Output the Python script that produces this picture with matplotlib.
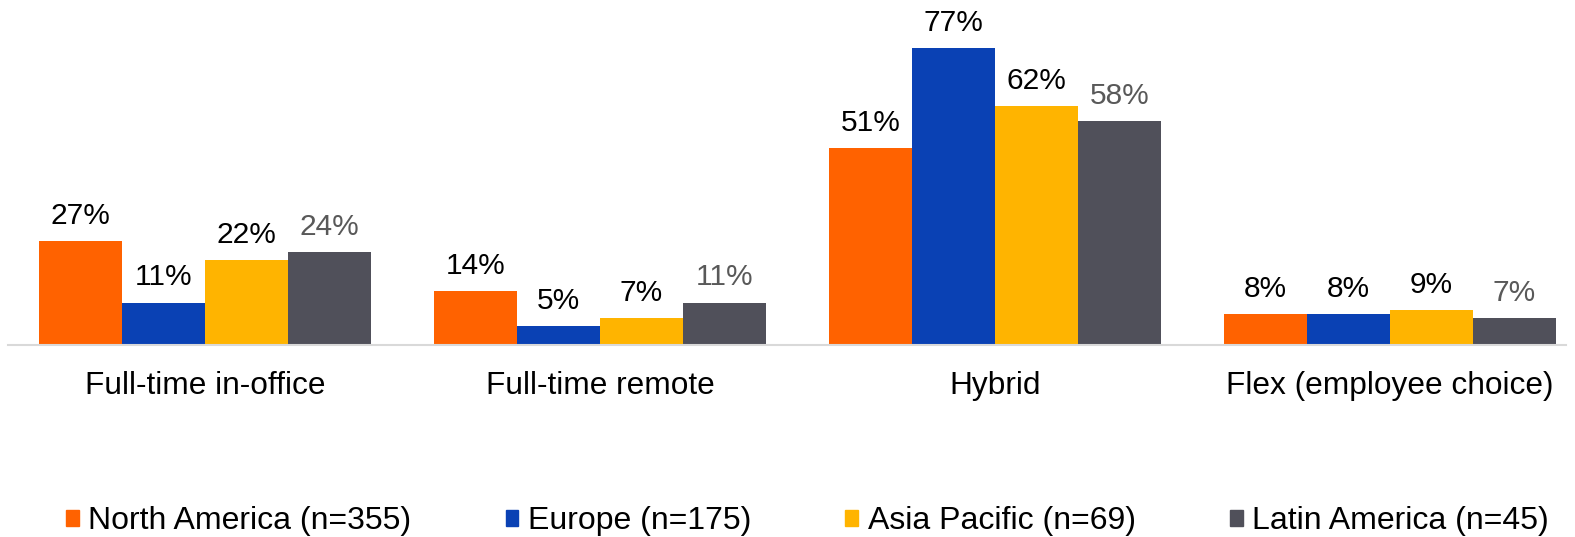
import matplotlib.pyplot as plt
import matplotlib.patches as mpatches
import numpy as np

plt.rcParams['font.family'] = ['Liberation Sans', 'DejaVu Sans']

# data
categories = ["Full-time in-office", "Full-time remote", "Hybrid", "Flex (employee choice)"]
regions = ["North America (n=355)", "Europe (n=175)", "Asia Pacific (n=69)", "Latin America (n=45)"]
north_america = [27, 14, 51, 8]
europe = [11, 5, 77, 8]
asia_pacific = [22, 7, 62, 9]
latin_america = [24, 11, 58, 7]

series = [north_america, europe, asia_pacific, latin_america]
colors = ["#FF6200", "#0A41B4", "#FFB400", "#50505A"]
label_colors = ["black", "black", "black", "#595959"]

fig = plt.figure(figsize=(15.75, 5.37), dpi=100)
ax = fig.add_axes([0.005, 0.3575, 0.989, 0.6425])

x = np.arange(len(categories))
w = 0.21
for i, vals in enumerate(series):
    bars = ax.bar(x + (i - 1.5) * w, vals, w, color=colors[i], label=regions[i])
    ax.bar_label(bars, labels=[f"{v}%" for v in vals], padding=8,
                 fontsize=21.5, color=label_colors[i])

ax.set_xlim(-0.5, 3.445)
ax.set_ylim(0, 89.4)
ax.set_xticks(x)
ax.set_xticklabels(categories, fontsize=22.8)
ax.tick_params(axis='x', length=0, pad=19)
ax.set_yticks([])
for s in ['top', 'right', 'left']:
    ax.spines[s].set_visible(False)
ax.spines['bottom'].set_color('#D9D9D9')
ax.spines['bottom'].set_linewidth(1.5)

handles = [mpatches.Patch(color=c) for c in colors]
fig.legend(handles, regions, loc='center', bbox_to_anchor=(0.5 + 20 / 1575, 16 / 537),
           ncol=4, frameon=False, fontsize=23, handlelength=0.4, handleheight=0.4,
           handletextpad=0.3, columnspacing=2.95, borderpad=0, borderaxespad=0)

fig.savefig("out.png", dpi=100)
